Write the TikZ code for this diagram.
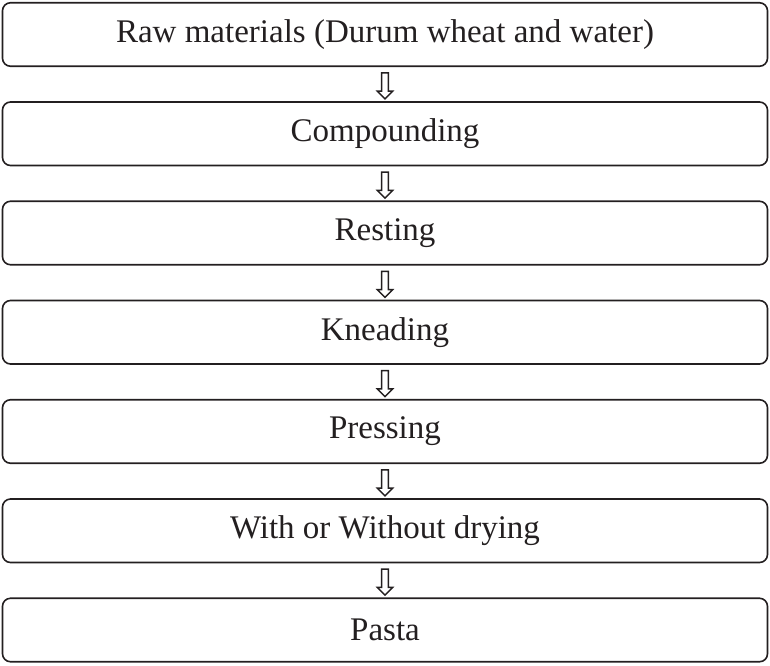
\documentclass[tikz,border=0pt]{standalone}
\usepackage{fontspec}
\setmainfont{Liberation Serif}
\usetikzlibrary{positioning,calc,shapes.arrows}
\definecolor{ink}{HTML}{231F20}
\begin{document}
\begin{tikzpicture}[x=1pt, y=1pt, node distance={35.75pt}, ink,
  stage/.style = {draw, line width=1.6pt, rounded corners=8pt, outer sep=0pt, minimum width=765pt, minimum height=63.5pt, inner sep=0pt, font=\fontsize{33}{36}\selectfont},
  flow/.style = {draw, single arrow, shape border rotate=270, line width=1.4pt, inner sep=2.7pt, single arrow head extend=4.3pt, minimum height=26pt, fill=white}]
\useasboundingbox (0,0) rectangle (770,-665);
\node[stage] (b1) at (385,-34.5) {Raw materials (Durum wheat and water)};
\node[stage] (b2) [below=of b1] {Compounding};
\node[stage] (b3) [below=of b2] {Resting};
\node[stage] (b4) [below=of b3] {Kneading};
\node[stage] (b5) [below=of b4] {Pressing};
\node[stage] (b6) [below=of b5] {With or Without drying};
\node[stage] (b7) [below=of b6] {Pasta};
\node[flow] (a1) at ($(b1.south)!0.5!(b2.north)$) {};
\node[flow] (a2) at ($(b2.south)!0.5!(b3.north)$) {};
\node[flow] (a3) at ($(b3.south)!0.5!(b4.north)$) {};
\node[flow] (a4) at ($(b4.south)!0.5!(b5.north)$) {};
\node[flow] (a5) at ($(b5.south)!0.5!(b6.north)$) {};
\node[flow] (a6) at ($(b6.south)!0.5!(b7.north)$) {};
\end{tikzpicture}
\end{document}
